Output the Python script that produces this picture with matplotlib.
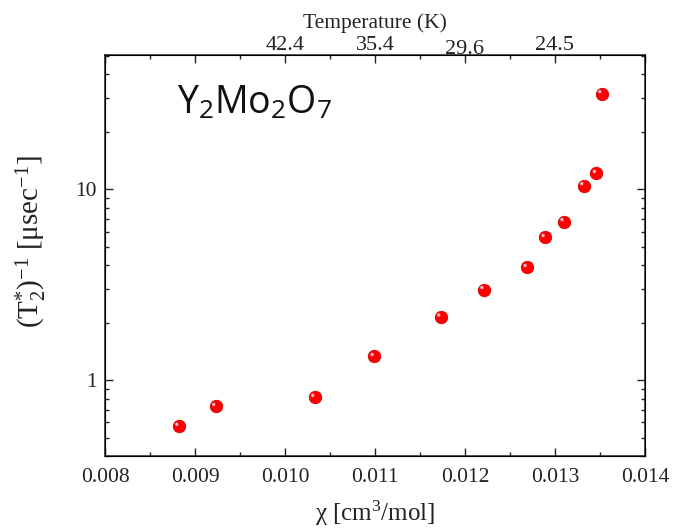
import matplotlib
matplotlib.use("Agg")
import matplotlib.pyplot as plt
from matplotlib.ticker import MultipleLocator, LogLocator, FixedLocator, NullFormatter, FuncFormatter
from matplotlib.transforms import offset_copy, ScaledTranslation

plt.rcParams["mathtext.fontset"] = "custom"
plt.rcParams["mathtext.rm"] = "Liberation Serif"
plt.rcParams["mathtext.it"] = "Liberation Serif:italic"
plt.rcParams["mathtext.sf"] = "Open Sans"

# susceptibility chi [cm^3/mol] and relaxation rate 1/T2* [usec^-1]
chi = [0.00882, 0.00923, 0.01033, 0.01099, 0.01173, 0.01221,
       0.01269, 0.01289, 0.01310, 0.01332, 0.01346, 0.01352]
rate = [0.572, 0.728, 0.812, 1.33, 2.14, 2.98,
        3.89, 5.59, 6.77, 10.45, 12.1, 31.7]

# temperature scale on the top axis
temp_pos = [0.010, 0.011, 0.012, 0.013]
temp_labels = ["42.4", "35.4", "29.6", "24.5"]

x_ticks = [0.008, 0.009, 0.010, 0.011, 0.012, 0.013, 0.014]

serif = ["Liberation Serif", "DejaVu Serif"]
ink = "#222222"

fig = plt.figure(figsize=(6.81, 5.29), dpi=100)
ax = fig.add_axes([0.1542, 0.138, 0.7929, 0.758])

# shaded red spheres: body, then a small highlight offset up-left
ax.scatter(chi, rate, s=80, color="#ff0000", edgecolors="#d80000",
           linewidths=0.6, zorder=3)
hl = offset_copy(ax.transData, fig=fig, x=-2.0, y=2.0, units="dots")
ax.scatter(chi, rate, s=6, color="#f0b8cc", edgecolors="none",
           transform=hl, zorder=4)

ax.set_yscale("log")
ax.set_xlim(0.008, 0.014)
ax.set_ylim(0.4, 50.5)

ax.xaxis.set_major_locator(FixedLocator(x_ticks))
ax.xaxis.set_minor_locator(MultipleLocator(0.0005))
ax.set_xticklabels([f"{v:.3f}" for v in x_ticks])
ax.yaxis.set_major_locator(LogLocator(base=10))
ax.yaxis.set_minor_locator(LogLocator(base=10, subs=range(2, 10)))
ax.yaxis.set_major_formatter(FuncFormatter(lambda v, p: f"{v:g}"))
ax.yaxis.set_minor_formatter(NullFormatter())

ax.tick_params(which="both", direction="in", top=False, right=True,
               width=1.0, colors=ink, labelcolor=ink)
ax.tick_params(which="major", length=6, labelsize=15.5)
ax.tick_params(axis="x", which="major", pad=9)
ax.tick_params(axis="y", which="major", pad=6)
ax.tick_params(which="minor", length=3)
for lab in ax.get_xticklabels() + ax.get_yticklabels():
    lab.set_family(serif)

for sp in ax.spines.values():
    sp.set_linewidth(1.2)
    sp.set_color("#333333")

# top axis: temperature
top = ax.twiny()
top.set_xlim(ax.get_xlim())
top.xaxis.set_major_locator(FixedLocator(x_ticks))
top.xaxis.set_minor_locator(MultipleLocator(0.0005))
top.set_xticklabels(["", ""] + temp_labels + [""])
top.tick_params(which="both", direction="in", colors=ink,
                labelcolor=ink, width=1.0)
top.tick_params(which="major", length=6, labelsize=16, pad=0)
top.tick_params(which="minor", length=3)
for lab in top.get_xticklabels():
    lab.set_family(serif)
# the 29.6 label sits a little lower than its neighbours
t296 = top.xaxis.get_major_ticks()[4].label2
t296.set_transform(t296.get_transform() + ScaledTranslation(0, -3.5 / 100, fig.dpi_scale_trans))
top.set_xlabel("Temperature (K)", fontsize=15.5, family=serif, color=ink)
top.xaxis.set_label_coords(0.5, 1.0 + 27 / 401)

ax.set_xlabel("χ [cm$^\\mathrm{3}$/mol]", fontsize=18, family=serif,
              labelpad=8, color=ink)
ax.set_ylabel("(T$_\\mathrm{2}^\\mathrm{*}$)$^\\mathrm{-1}$ [μsec$^\\mathrm{-1}$]",
              fontsize=21, family=serif, color=ink)
ax.yaxis.set_label_coords(-0.103, 0.535)

ax.text(0.133, 0.855, r"Y$_\mathsf{2}$Mo$_\mathsf{2}$O$_\mathsf{7}$",
        transform=ax.transAxes, fontsize=27, family="Open Sans",
        color="#111111", ha="left", va="baseline")

fig.savefig("out.png", dpi=100)
